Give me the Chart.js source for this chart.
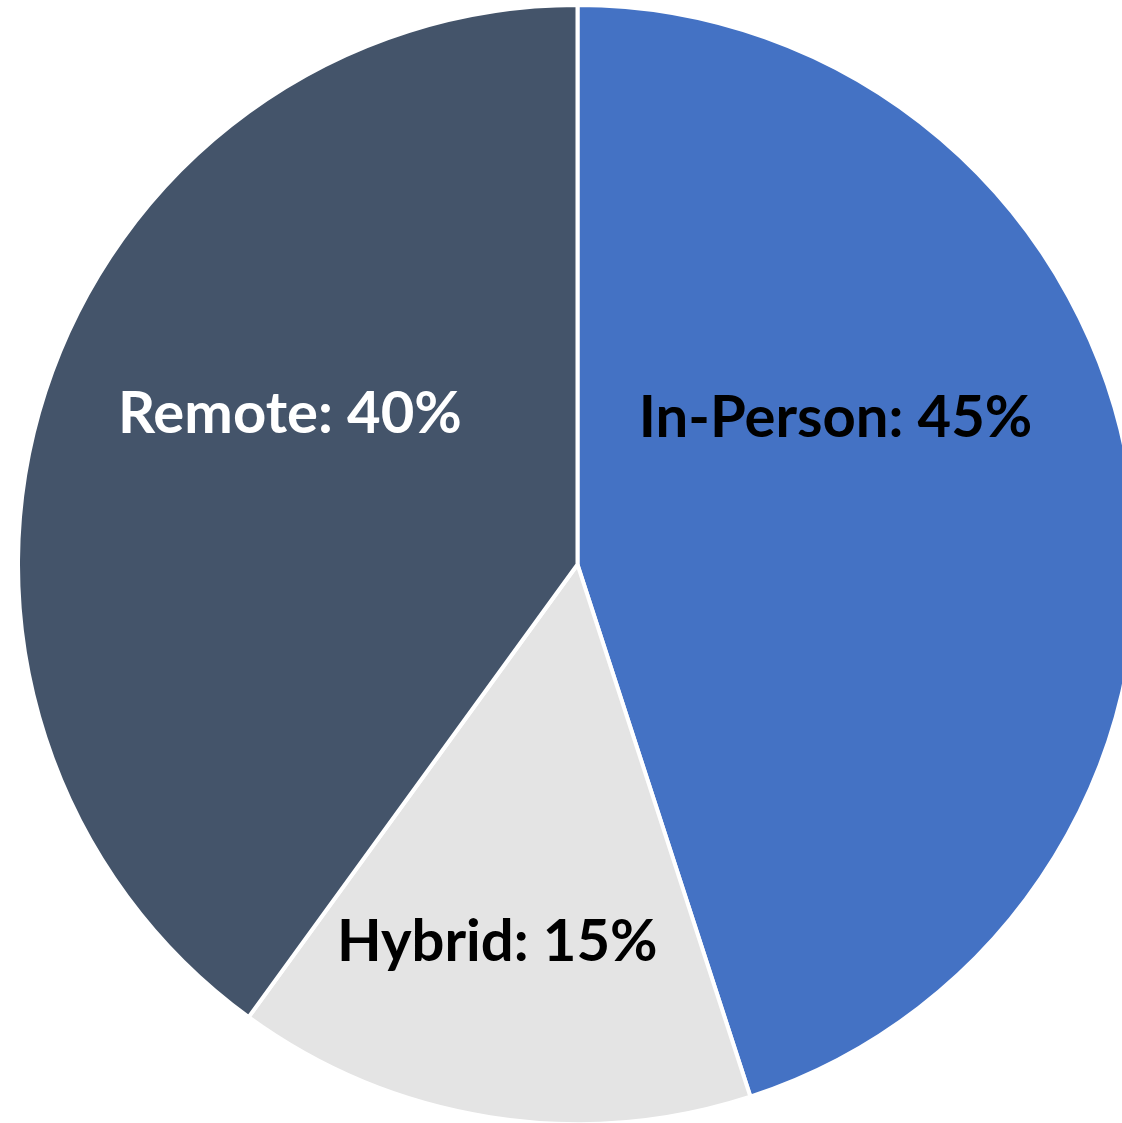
<!DOCTYPE html>
<html lang="en">
<head>
    <meta charset="UTF-8">
    <title>Work Mode Split</title>
    <script src="https://cdn.jsdelivr.net/npm/chart.js"></script>
    <style>
        html, body { margin: 0; padding: 0; background: #fff; overflow: hidden; width: 1122px; height: 1123px; }
        .chart-box { position: absolute; left: 16px; top: 3px; width: 1123px; height: 1123px; }
    </style>
</head>
<body>
    <div class="chart-box">
        <canvas id="modeChart" width="1123" height="1123"></canvas>
    </div>

    <script>
        // Data
        const categories = ['In-Person', 'Hybrid', 'Remote'];
        const shares = [45, 15, 40];
        const sliceColors = ['#4472C4', '#E4E4E4', '#44546A'];
        const labelColors = ['#000000', '#000000', '#ffffff'];

        // Where each label sits: nudge (degrees) from slice middle and fraction of radius
        const labelPlacement = [
            { shift: -20.5, frac: 0.53 },
            { shift: 3, frac: 0.69 },
            { shift: 9.6, frac: 0.58 }
        ];

        const sliceLabels = {
            id: 'sliceLabels',
            afterDatasetsDraw(chart) {
                const ctx = chart.ctx;
                const meta = chart.getDatasetMeta(0);
                ctx.save();
                ctx.font = 'bold 58px Lato';
                ctx.textAlign = 'center';
                ctx.textBaseline = 'middle';
                meta.data.forEach((arc, i) => {
                    const p = arc.getProps(['x', 'y', 'startAngle', 'endAngle', 'outerRadius'], true);
                    const place = labelPlacement[i];
                    const mid = (p.startAngle + p.endAngle) / 2 + place.shift * Math.PI / 180;
                    const r = p.outerRadius * place.frac;
                    ctx.fillStyle = labelColors[i];
                    ctx.fillText(categories[i] + ': ' + shares[i] + '%', p.x + Math.cos(mid) * r, p.y + Math.sin(mid) * r);
                });
                ctx.restore();
            }
        };

        new Chart(document.getElementById('modeChart'), {
            type: 'pie',
            data: {
                labels: categories,
                datasets: [{
                    data: shares,
                    backgroundColor: sliceColors,
                    borderColor: '#ffffff',
                    borderWidth: 4
                }]
            },
            options: {
                responsive: false,
                animation: false,
                layout: { padding: 0 },
                plugins: {
                    legend: { display: false },
                    tooltip: { enabled: false }
                }
            },
            plugins: [sliceLabels]
        });
    </script>
</body>
</html>
